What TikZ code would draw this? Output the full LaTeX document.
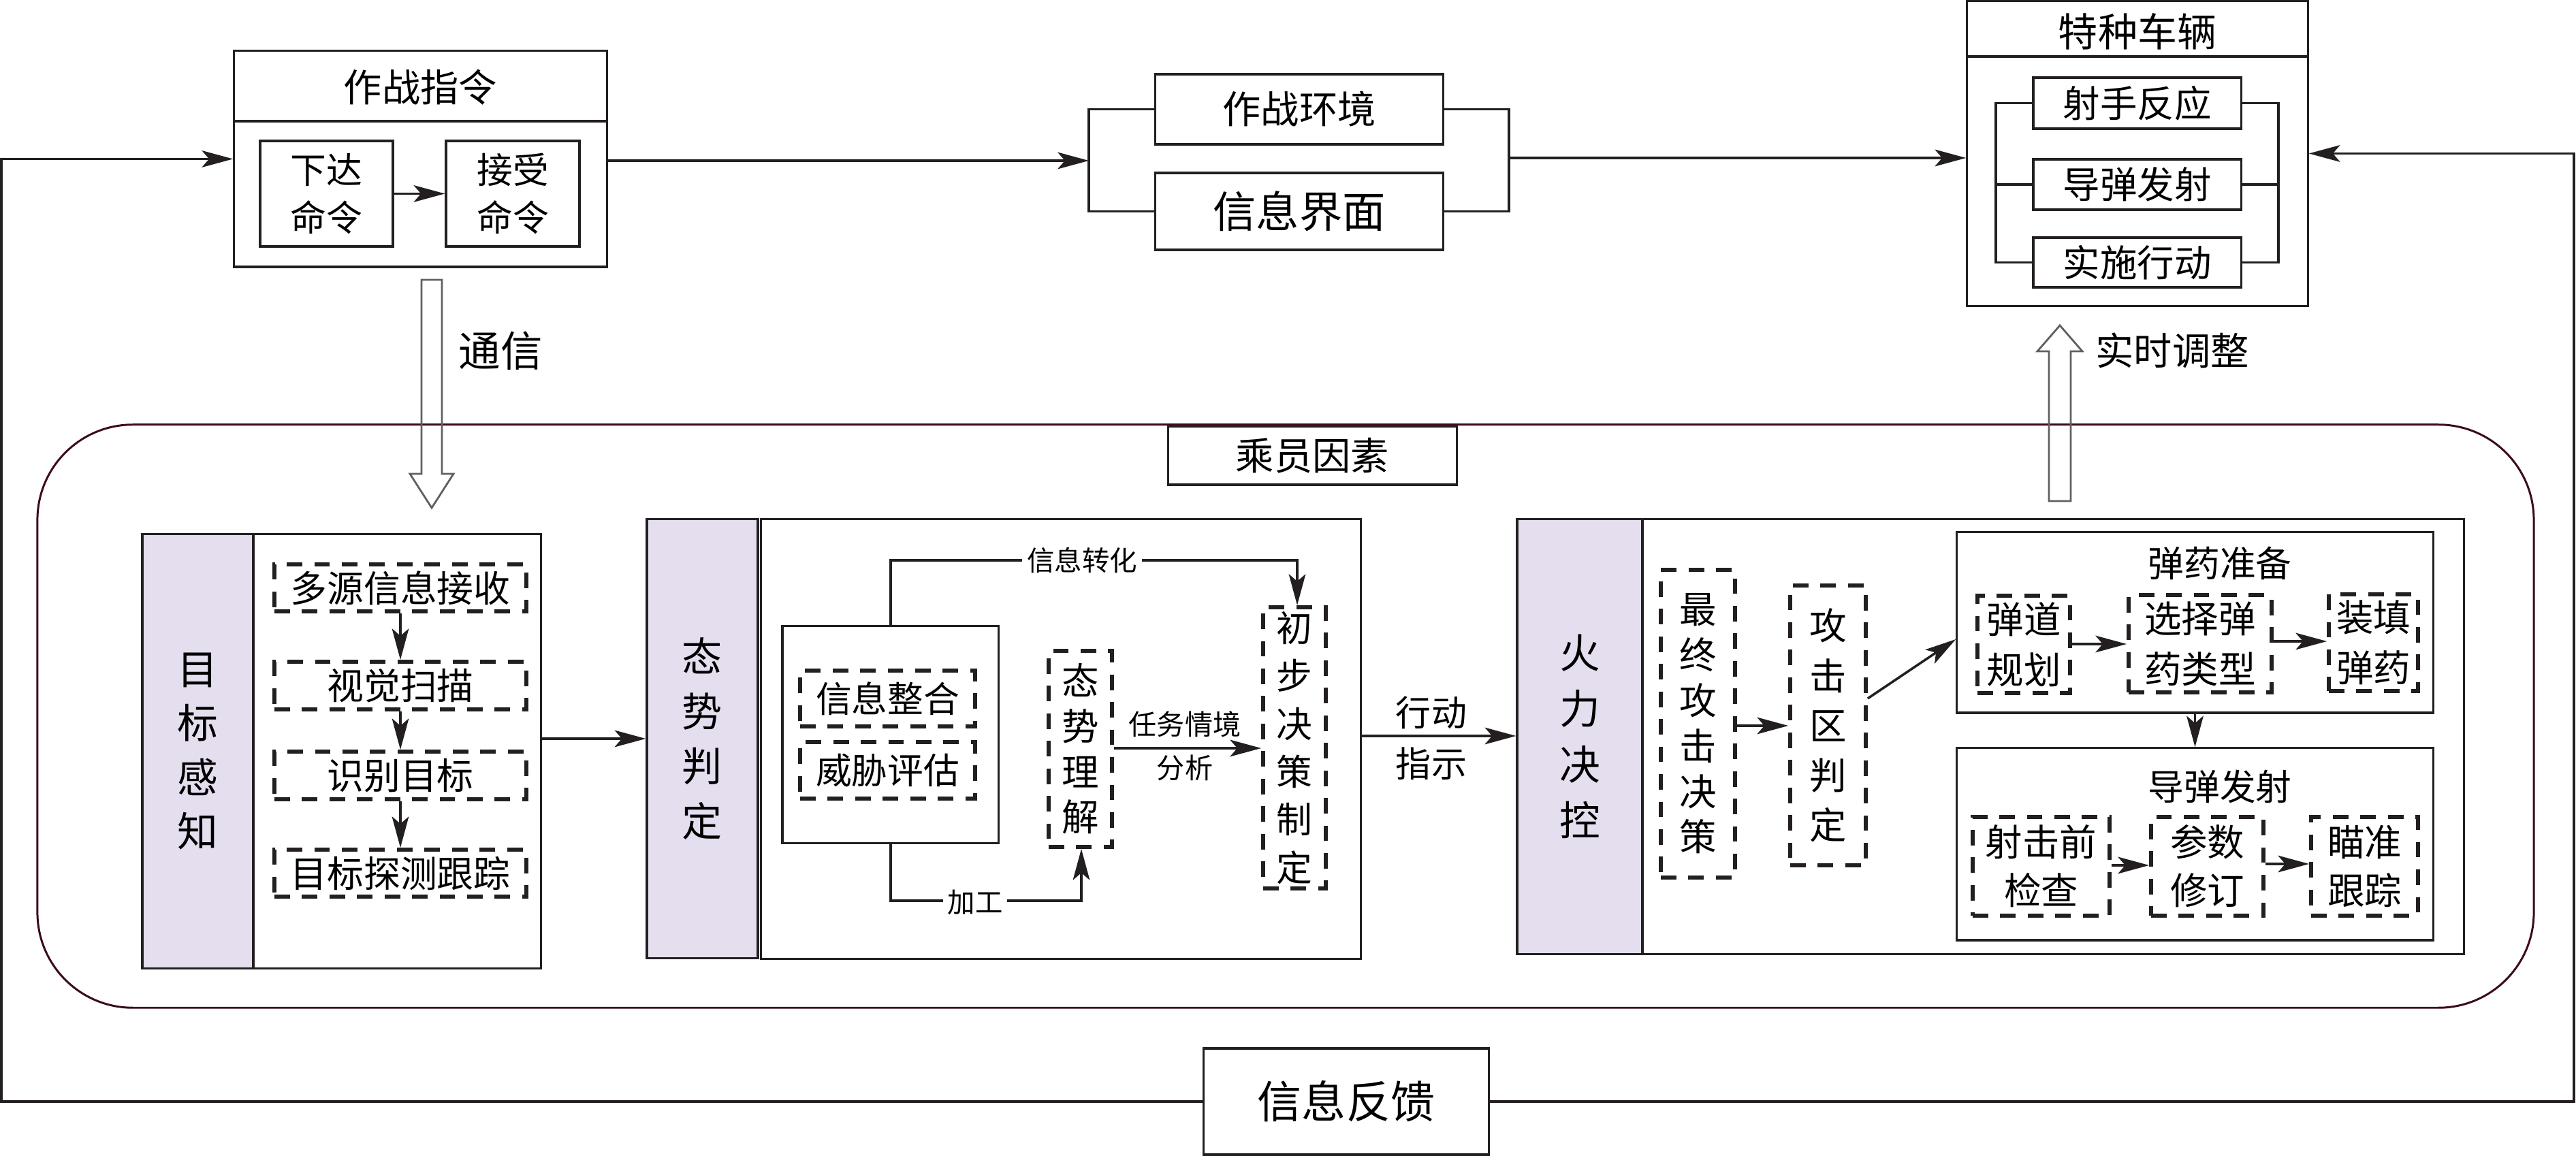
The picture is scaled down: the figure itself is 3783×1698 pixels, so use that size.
\documentclass[tikz,border=0pt]{standalone}
\usepackage{fontspec}
\setmainfont{Noto Sans CJK SC}
\usetikzlibrary{arrows.meta}
\definecolor{lc}{RGB}{35,31,32}
\definecolor{pur}{RGB}{228,222,238}
\definecolor{mar}{RGB}{60,12,24}
\definecolor{gr}{RGB}{96,96,96}
\begin{document}
\begin{tikzpicture}[x=0.01cm,y=-0.01cm,
  box/.style={draw=lc, line width=0.9pt, inner sep=0pt},
  pbox/.style={box, fill=pur},
  dbox/.style={draw=lc, line width=1.6pt, dash pattern=on 6.5pt off 5pt, inner sep=0pt},
  conn/.style={draw=lc, line width=1pt},
  arr/.style={conn, -{Stealth[length=13pt,width=7pt,inset=3pt]}},
  hollow/.style={draw=gr, line width=0.8pt},
  f/.style 2 args={font=\fontsize{#1pt}{#2pt}\selectfont},
  lbl/.style={fill=white, inner sep=2pt}
]
\useasboundingbox (0,0) rectangle (3783,1698);

% ---------- crew factor rounded frame ----------
\node[draw=mar, line width=0.85pt, rounded corners=1.4cm, minimum width=36.64cm, minimum height=8.56cm, inner sep=0pt] (cyys) at (1888,1052) {};
\node[box, fill=white, minimum width=4.23cm, minimum height=0.86cm, f={16}{20}] (cyysT) at (1927.5,669) {乘员因素};

% ---------- 作战指令 ----------
\node[box, minimum width=5.47cm, minimum height=3.17cm] (zzzl) at (617.5,233.5) {};
\draw[draw=lc, line width=0.9pt] (zzzl.west |- 0,178) -- (zzzl.east |- 0,178);
\node[f={16}{20}] (zzzlT) at (617.5,128) {作战指令};
\node[box, minimum width=1.95cm, minimum height=1.55cm, align=center, f={15}{20}] (xdml) at (479.5,284.5) {下达\\命令};
\node[box, minimum width=1.96cm, minimum height=1.55cm, align=center, f={15}{20}] (jsml) at (753,284.5) {接受\\命令};
\draw[arr] (xdml) -- (jsml);

% ---------- 作战环境 / 信息界面 ----------
\node[box, minimum width=4.22cm, minimum height=1.03cm, f={16}{20}] (zzhj) at (1908,160.5) {作战环境};
\node[box, minimum width=4.22cm, minimum height=1.13cm, f={18}{22}] (xxjm) at (1908,310.5) {信息界面};
\coordinate (jl) at (1599,236);
\coordinate (jr) at (2216,232);
\draw[conn] (zzhj.west) -| (jl) |- (xxjm.west);
\draw[conn] (zzhj.east) -| (jr) |- (xxjm.east);
\draw[arr] (zzzl.east |- jl) -- (jl);

% ---------- 特种车辆 ----------
\node[box, minimum width=5cm, minimum height=4.47cm] (tzcl) at (3139,225.5) {};
\draw[draw=lc, line width=0.9pt] (tzcl.west |- 0,83) -- (tzcl.east |- 0,83);
\node[f={16.5}{20}] (tzclT) at (3139,46) {特种车辆};
\node[box, minimum width=3.05cm, minimum height=0.75cm, f={15.5}{20}] (ssfy) at (3138.5,151.5) {射手反应};
\node[box, minimum width=3.05cm, minimum height=0.74cm, f={15.5}{20}] (ddfs) at (3138.5,271) {导弹发射};
\node[box, minimum width=3.05cm, minimum height=0.73cm, f={15.5}{20}] (ssxd) at (3138.5,385.5) {实施行动};
\coordinate (bl) at (2931,271);
\coordinate (br) at (3346,271);
\draw[conn] (ssfy.west) -| (bl) |- (ssxd.west);
\draw[conn] (ddfs.west) -- (bl);
\draw[conn] (ssfy.east) -| (br) |- (ssxd.east);
\draw[conn] (ddfs.east) -- (br);
\draw[arr] (jr) -- (tzcl.west |- jr);

% ---------- hollow arrows ----------
\draw[hollow] (619,411) -- (649,411) -- (649,696) -- (666,696) -- (634,746) -- (602,696) -- (619,696) -- cycle;
\node[f={17.5}{20}] (tx) at (735,515) {通信};
\draw[hollow] (3009,736) -- (3041,736) -- (3041,516) -- (3058,516) -- (3025,478) -- (2992,516) -- (3009,516) -- cycle;
\node[f={16}{20}] (sstz) at (3190,515) {实时调整};

% ---------- 信息反馈 ----------
\node[box, minimum width=4.18cm, minimum height=1.56cm, f={18.5}{22}] (xxfk) at (1977,1618) {信息反馈};
\coordinate (fl) at (2,1618);
\coordinate (fr) at (3780,1618);
\draw[arr] (xxfk.west) -- (fl) |- (zzzl.west);
\draw[arr] (xxfk.east) -- (fr) |- (tzcl.east);

% ---------- 目标感知 ----------
\node[pbox, minimum width=1.63cm, minimum height=6.37cm, align=center, f={17}{22.5}] (mbgz) at (290.5,1103.5) {目\\标\\感\\知};
\node[box, minimum width=4.22cm, minimum height=6.37cm] (mbgzB) at (583,1103.5) {};
\node[dbox, minimum width=3.7cm, minimum height=0.69cm, f={15.3}{20}] (dyxx) at (588,863.5) {多源信息接收};
\node[dbox, minimum width=3.7cm, minimum height=0.70cm, f={15.3}{20}] (sjsm) at (588,1007) {视觉扫描};
\node[dbox, minimum width=3.7cm, minimum height=0.70cm, f={15.3}{20}] (sbmb) at (588,1139) {识别目标};
\node[dbox, minimum width=3.7cm, minimum height=0.69cm, f={15.3}{20}] (mbtc) at (588,1282.5) {目标探测跟踪};
\draw[arr] (dyxx) -- (sjsm);
\draw[arr] (sjsm) -- (sbmb);
\draw[arr] (sbmb) -- (mbtc);

% ---------- 态势判定 ----------
\node[pbox, minimum width=1.63cm, minimum height=6.44cm, align=center, f={16.8}{23}] (tspd) at (1031.5,1085) {态\\势\\判\\定};
\node[box, minimum width=8.8cm, minimum height=6.45cm] (tspdB) at (1558,1085.5) {};
\draw[arr] (mbgzB.east |- tspd) -- (tspd.west);
\node[box, minimum width=3.17cm, minimum height=3.18cm] (xxzh) at (1307.5,1079) {};
\node[dbox, minimum width=2.57cm, minimum height=0.82cm, f={15}{20}] (xxzg) at (1303.5,1026) {信息整合};
\node[dbox, minimum width=2.57cm, minimum height=0.83cm, f={15}{20}] (wxpg) at (1303.5,1131.5) {威胁评估};
\node[dbox, minimum width=0.93cm, minimum height=2.88cm, align=center, f={15.5}{19}] (tslj) at (1586.5,1100) {态\\势\\理\\解};
\node[dbox, minimum width=0.92cm, minimum height=4.13cm, align=center, f={15}{20}] (cbjc) at (1901,1098.5) {初\\步\\决\\策\\制\\定};
\coordinate (p1) at (1308,823);
\coordinate (p2) at (1905,823);
\draw[arr] (xxzh.north -| p1) -- (p1) -- (p2) -- (cbjc.north -| p2);
\node[lbl, f={11.5}{14}] (xxzhL) at (1589,823) {信息转化};
\coordinate (q1) at (1308,1323);
\coordinate (q2) at (1588,1323);
\draw[arr] (xxzh.south -| q1) -- (q1) -- (q2) -- (tslj.south -| q2);
\node[lbl, f={11.5}{14}] (jgL) at (1432,1325) {加工};
\draw[arr] (tslj.east |- 0,1099) -- (cbjc.west |- 0,1099);
\node[align=center, f={11.7}{18.2}] (rwqj) at (1740,1096) {任务情境\\分析};

% ---------- 火力决控 ----------
\node[pbox, minimum width=1.84cm, minimum height=6.38cm, align=center, f={17}{23.3}] (hljk) at (2320,1082) {火\\力\\决\\控};
\node[box, minimum width=12.06cm, minimum height=6.38cm] (hljkB) at (3015,1082) {};
\draw[arr] (tspdB.east |- 0,1081) -- (hljk.west |- 0,1081);
\node[align=center, f={14.8}{21.3}] (xdzs) at (2102,1084.5) {行动\\指示};

\node[dbox, minimum width=1.09cm, minimum height=4.52cm, align=center, f={15.5}{19}] (zzgj) at (2493.5,1063) {最\\终\\攻\\击\\决\\策};
\node[dbox, minimum width=1.11cm, minimum height=4.11cm, align=center, f={15.5}{20.8}] (gjqp) at (2684.5,1065.5) {攻\\击\\区\\判\\定};
\draw[arr] (zzgj.east |- 0,1066) -- (gjqp.west |- 0,1066);

\node[box, minimum width=6.99cm, minimum height=2.65cm] (dyzb) at (3223.5,914.5) {};
\node[f={15}{20}] (dyzbT) at (3260,827) {弹药准备};
\draw[arr] (gjqp.east |- 0,1026) -- (dyzb.west |- 0,939);
\node[dbox, minimum width=1.36cm, minimum height=1.43cm, align=center, f={15.5}{21}] (ddgh) at (2972,946.5) {弹道\\规划};
\node[dbox, minimum width=2.10cm, minimum height=1.43cm, align=center, f={15.5}{21}] (xzdy) at (3231,945.5) {选择弹\\药类型};
\node[dbox, minimum width=1.31cm, minimum height=1.42cm, align=center, f={15.5}{21}] (ztdy) at (3485.5,944) {装填\\弹药};
\draw[arr] (ddgh.east |- 0,946) -- (xzdy.west |- 0,946);
\draw[arr] (xzdy.east |- 0,942) -- (ztdy.west |- 0,942);

\node[box, minimum width=6.99cm, minimum height=2.82cm] (ddfsB) at (3223.5,1240) {};
\node[f={15}{20}] (ddfsT) at (3260,1155) {导弹发射};
\draw[arr] (dyzb.south) -- (ddfsB.north);
\node[dbox, minimum width=2.01cm, minimum height=1.45cm, align=center, f={15.5}{20.2}] (sjqj) at (2997.5,1272.5) {射击前\\检查};
\node[dbox, minimum width=1.65cm, minimum height=1.45cm, align=center, f={15.5}{20.2}] (csxd) at (3241.5,1272.5) {参数\\修订};
\node[dbox, minimum width=1.57cm, minimum height=1.45cm, align=center, f={15.5}{20.2}] (mzgz) at (3472.5,1272.5) {瞄准\\跟踪};
\draw[arr] (sjqj.east |- 0,1271) -- (csxd.west |- 0,1271);
\draw[arr] (csxd.east |- 0,1269) -- (mzgz.west |- 0,1269);
\end{tikzpicture}
\end{document}
